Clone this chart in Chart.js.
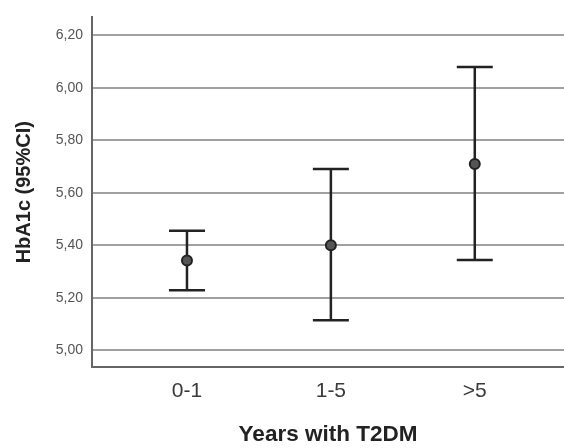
<!DOCTYPE html>
<html>
<head>
<meta charset="utf-8">
<script src="https://cdn.jsdelivr.net/npm/chart.js@4"></script>
<style>
  body { margin: 0; background: #fff; }
  #chart { display: block; }
</style>
</head>
<body>
<canvas id="chart" width="564" height="448"></canvas>
<script>
// data
const categories = ['0-1', '1-5', '>5'];
const means = [5.342, 5.40, 5.709];
const lowerCI = [5.228, 5.114, 5.344];
const upperCI = [5.455, 5.69, 6.079];
const yTicks = [5.00, 5.20, 5.40, 5.60, 5.80, 6.00, 6.20];
const yTickLabels = ['5,00', '5,20', '5,40', '5,60', '5,80', '6,00', '6,20'];

// whiskers with caps, drawn with the chart's own scales
const errorBars = {
  id: 'errorBars',
  beforeDatasetsDraw(chart) {
    const ctx = chart.ctx;
    const xs = chart.scales.x;
    const ys = chart.scales.y;
    ctx.save();
    ctx.strokeStyle = '#222';
    ctx.lineWidth = 2.5;
    for (let i = 0; i < means.length; i++) {
      const x = xs.getPixelForValue(i);
      const yLo = ys.getPixelForValue(lowerCI[i]);
      const yHi = ys.getPixelForValue(upperCI[i]);
      ctx.beginPath();
      ctx.moveTo(x, yLo);
      ctx.lineTo(x, yHi);
      ctx.moveTo(x - 18, yLo);
      ctx.lineTo(x + 18, yLo);
      ctx.moveTo(x - 18, yHi);
      ctx.lineTo(x + 18, yHi);
      ctx.stroke();
    }
    ctx.restore();
  }
};

var ctx = document.getElementById('chart').getContext('2d');

new Chart(ctx, {
  type: 'scatter',
  data: {
    datasets: [{
      data: means.map((m, i) => ({ x: i, y: m })),
      pointRadius: 5,
      pointBackgroundColor: '#555',
      pointBorderColor: '#222',
      pointBorderWidth: 2
    }]
  },
  options: {
    responsive: false,
    animation: false,
    layout: { autoPadding: false, padding: { top: 13, right: 0, left: 0, bottom: 0 } },
    plugins: {
      legend: { display: false },
      tooltip: { enabled: false }
    },
    scales: {
      x: {
        type: 'linear',
        min: -0.66,
        max: 2.62,
        afterBuildTicks: scale => {
          scale.ticks = categories.map((c, i) => ({ value: i }));
        },
        afterFit: scale => { scale.height = 81; },
        grid: { display: false, drawTicks: false },
        border: { display: true, color: '#666', width: 2 },
        ticks: {
          padding: 12,
          color: '#3a3a3a',
          font: { family: 'Liberation Sans', size: 21 },
          callback: v => categories[v]
        },
        title: {
          display: true,
          text: 'Years with T2DM',
          color: '#222',
          padding: { top: 0, bottom: 0 },
          font: { family: 'Liberation Sans', size: 22.5, weight: 'bold' }
        }
      },
      y: {
        min: 4.936,
        max: 6.268,
        afterBuildTicks: scale => {
          scale.ticks = yTicks.map(v => ({ value: v }));
        },
        afterFit: scale => { scale.width = 92; },
        grid: { color: '#a0a0a0', lineWidth: 2, drawTicks: false },
        border: { display: true, color: '#666', width: 2 },
        ticks: {
          padding: 9,
          color: '#555',
          font: { family: 'Liberation Sans', size: 14 },
          callback: v => yTickLabels[yTicks.findIndex(t => Math.abs(t - v) < 1e-6)]
        },
        title: {
          display: true,
          text: 'HbA1c (95%CI)',
          color: '#222',
          padding: { top: 12, bottom: 0 },
          font: { family: 'Liberation Sans', size: 20, weight: 'bold' }
        }
      }
    }
  },
  plugins: [errorBars]
});
</script>
</body>
</html>
